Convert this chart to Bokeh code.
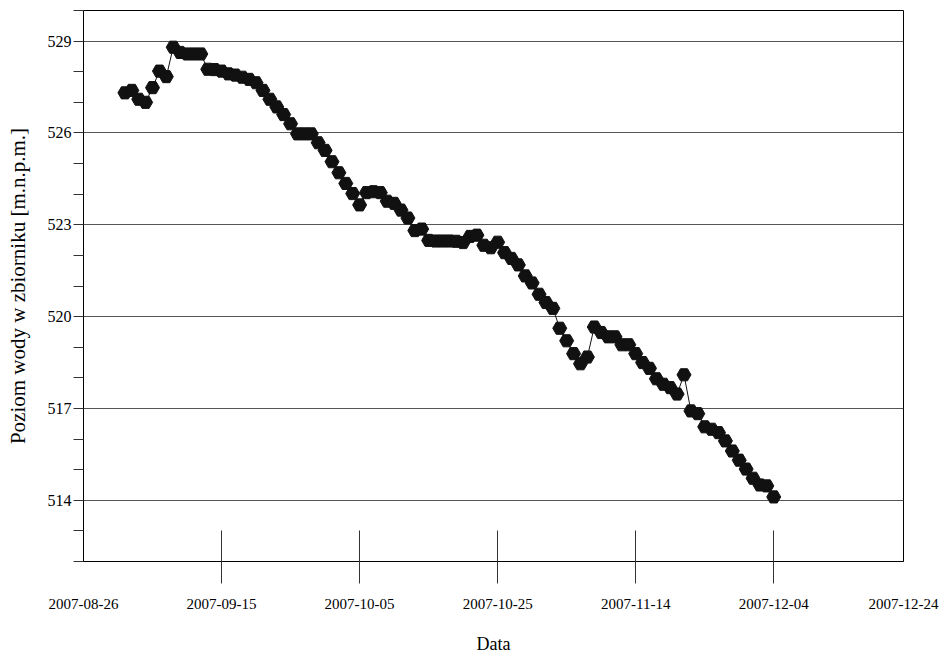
import pandas as pd
from bokeh.plotting import figure
from bokeh.models import FixedTicker, DatetimeTickFormatter, Range1d, ColumnDataSource, DatetimeAxis
from bokeh.embed import file_html
from bokeh.resources import INLINE

# ---- data ----
start_date = "2007-09-01"
levels = [
    527.31, 527.39, 527.10, 527.00, 527.48, 528.02, 527.84, 528.80, 528.63, 528.58,
    528.58, 528.58, 528.08, 528.07, 528.02, 527.93, 527.89, 527.82, 527.75, 527.64,
    527.39, 527.10, 526.85, 526.60, 526.30, 525.97, 525.97, 525.97, 525.68, 525.43,
    525.06, 524.70, 524.35, 524.02, 523.65, 524.05, 524.08, 524.05, 523.77, 523.70,
    523.48, 523.22, 522.81, 522.86, 522.49, 522.47, 522.47, 522.47, 522.46, 522.42,
    522.62, 522.66, 522.33, 522.25, 522.43, 522.09, 521.90, 521.69, 521.33, 521.10,
    520.73, 520.46, 520.27, 519.62, 519.21, 518.79, 518.46, 518.68, 519.66, 519.48,
    519.34, 519.34, 519.08, 519.08, 518.79, 518.50, 518.31, 517.97, 517.79, 517.68,
    517.47, 518.10, 516.92, 516.83, 516.40, 516.32, 516.21, 515.94, 515.61, 515.31,
    515.02, 514.72, 514.50, 514.47, 514.11,
]
x_tick_dates = ["2007-09-15", "2007-10-05", "2007-10-25", "2007-11-14", "2007-12-04"]
x_edge_dates = ["2007-08-26", "2007-12-24"]
y_ticks = [514, 517, 520, 523, 526, 529]
y_minor_ticks = [512, 513, 515, 516, 518, 519, 521, 522, 524, 525, 527, 528, 530]

FONT = "Liberation Serif"

def ms(d):
    return pd.Timestamp(d).value / 1e6

dates = pd.date_range(start_date, periods=len(levels), freq="D")
src = ColumnDataSource(data=dict(x=dates, y=levels))

x_start = ms(x_edge_dates[0])
x_end = x_start + 118.8 * 86400000.0

p = figure(
    width=939, height=657,
    x_axis_type="datetime",
    x_range=Range1d(x_start, x_end),
    y_range=Range1d(512, 530),
    output_backend="svg", toolbar_location=None,
    min_border_left=83, min_border_right=36, min_border_top=10, min_border_bottom=96,
    background_fill_color="white", border_fill_color="white",
)
p.extra_x_ranges = {"edges": Range1d(ms(x_edge_dates[0]), ms(x_edge_dates[1]))}
p.outline_line_color = "black"
p.outline_line_width = 1

p.line("x", "y", source=src, line_color="#111111", line_width=1)
p.scatter("x", "y", source=src, marker="hex", size=14,
          fill_color="#111111", line_color="#111111")

# grids
p.xgrid.visible = False
p.ygrid.grid_line_color = "#555555"
p.ygrid.grid_line_width = 1

fmt = dict(days="%Y-%m-%d", months="%Y-%m-%d", years="%Y-%m-%d")

# x axis (inner ticks)
xa = p.xaxis[0]
xa.ticker = FixedTicker(ticks=[ms(d) for d in x_tick_dates], minor_ticks=[])
xa.formatter = DatetimeTickFormatter(**fmt)
xa.major_tick_in = 31
xa.major_tick_out = 22
xa.major_tick_line_color = "#333333"
xa.minor_tick_line_color = None
xa.axis_line_color = "black"
xa.major_label_standoff = 15
xa.major_label_text_font = FONT
xa.major_label_text_font_size = "15px"
xa.major_label_text_color = "black"

# second axis: edge labels at the frame ends, and the axis title
xb = DatetimeAxis(x_range_name="edges")
xb.ticker = FixedTicker(ticks=[ms(d) for d in x_edge_dates], minor_ticks=[])
xb.formatter = DatetimeTickFormatter(**fmt)
xb.axis_line_color = None
xb.major_tick_line_color = None
xb.minor_tick_line_color = None
xb.major_tick_in = 0
xb.major_tick_out = 0
xb.major_label_standoff = -13
xb.major_label_text_font = FONT
xb.major_label_text_font_size = "15px"
xb.major_label_text_color = "black"
xb.axis_label = "Data"
xb.axis_label_text_font = FONT
xb.axis_label_text_font_size = "18px"
xb.axis_label_text_font_style = "normal"
xb.axis_label_text_color = "black"
xb.axis_label_standoff = 22
p.add_layout(xb, "below")

# y axis
ya = p.yaxis[0]
ya.ticker = FixedTicker(ticks=y_ticks, minor_ticks=y_minor_ticks)
ya.major_tick_in = 0
ya.major_tick_out = 10
ya.minor_tick_in = 0
ya.minor_tick_out = 10
ya.major_tick_line_color = "#333333"
ya.minor_tick_line_color = "#333333"
ya.axis_line_color = "black"
ya.major_label_standoff = 2
ya.major_label_text_font = FONT
ya.major_label_text_font_size = "16px"
ya.major_label_text_color = "black"
ya.axis_label = "Poziom wody w zbiorniku [m.n.p.m.]"
ya.axis_label_text_font = FONT
ya.axis_label_text_font_size = "21px"
ya.axis_label_text_font_style = "normal"
ya.axis_label_text_color = "black"
ya.axis_label_standoff = 15

open("out.html", "w").write(file_html(p, INLINE))
